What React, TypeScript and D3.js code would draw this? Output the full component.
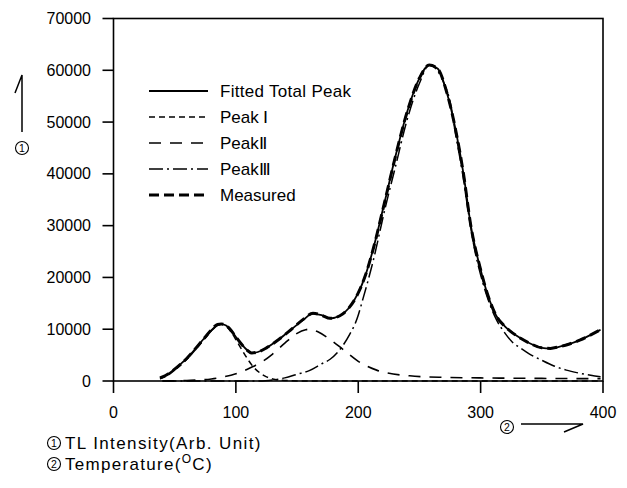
import React from "react";
import * as d3 from "d3";

// ---------- data ----------
const xTicks = [0, 100, 200, 300, 400];
const yTicks = [0, 10000, 20000, 30000, 40000, 50000, 60000, 70000];

const totalT = [38, 45, 50, 55, 60, 65, 70, 75, 80, 85, 88, 92, 96, 100, 105, 110, 113, 118, 125, 135, 145, 155, 163, 170, 177, 185, 192, 200, 206, 212, 222, 230, 240, 250, 258, 265, 272, 280, 286, 292, 300, 306, 313, 320, 326, 333, 340, 350, 357, 364, 372, 381, 390, 398];
const totalV = [500, 1400, 2300, 3300, 4400, 5700, 7100, 8500, 9800, 10800, 11000, 10700, 9800, 8500, 7000, 5800, 5400, 5600, 6400, 8000, 9900, 11800, 13000, 12700, 12100, 12600, 14000, 17000, 20500, 25300, 35000, 43000, 52000, 58500, 61000, 60300, 56000, 48000, 40000, 30000, 21500, 16500, 12500, 10500, 9300, 8200, 7300, 6400, 6300, 6600, 7100, 7900, 8900, 9900];

const measuredT = [38, 45, 50, 55, 60, 65, 70, 75, 80, 85, 88, 92, 96, 100, 105, 110, 113, 118, 125, 135, 145, 155, 163, 170, 177, 185, 192, 200, 206, 212, 222, 230, 240, 250, 258, 265, 272, 280, 286, 292, 300, 306, 313, 320, 326, 333, 340, 350, 357, 364, 372, 381, 390, 398];
const measuredV = [600, 1400, 2300, 3300, 4400, 5700, 7100, 8500, 9900, 10900, 11000, 10700, 9800, 8500, 7000, 5800, 5400, 5600, 6400, 8000, 9900, 11900, 13100, 12700, 12100, 12600, 14000, 17000, 20500, 25300, 35000, 43000, 52000, 58500, 61000, 60300, 56000, 48000, 40000, 30000, 21500, 16500, 12500, 10500, 9300, 8200, 7300, 6400, 6300, 6600, 7100, 7900, 8900, 9900];

const peak1T = [38, 45, 50, 55, 60, 65, 70, 75, 80, 85, 88, 92, 96, 100, 105, 110, 114, 120, 125, 130, 140, 160, 200, 300, 398];
const peak1V = [400, 1200, 2100, 3100, 4200, 5500, 6900, 8300, 9700, 10700, 11000, 10600, 9500, 8000, 6000, 4100, 2800, 1500, 800, 400, 100, 0, 0, 0, 0];

const peak2T = [40, 60, 80, 90, 100, 107, 114, 120, 130, 140, 150, 157, 160, 167, 177, 187, 200, 215, 242, 270, 300, 350, 398];
const peak2V = [0, 100, 400, 800, 1400, 2000, 2800, 3500, 5200, 7300, 9200, 9900, 10000, 9500, 8000, 6200, 3800, 2100, 1000, 700, 600, 500, 450];

const peak3T = [40, 100, 120, 130, 140, 150, 160, 170, 177, 187, 193, 199, 204, 212, 222, 230, 240, 250, 258, 265, 270, 275, 280, 285, 290, 295, 300, 305, 313, 320, 326, 333, 340, 350, 359, 370, 381, 390, 398];
const peak3V = [0, 0, 0, 200, 600, 1300, 2000, 3300, 4200, 6700, 9000, 12000, 16000, 23000, 33400, 41000, 50500, 57500, 61000, 59800, 57500, 54000, 47000, 40500, 32500, 25500, 20500, 16500, 11800, 9200, 7500, 6300, 5200, 4000, 3000, 2100, 1500, 1100, 800];

const legendLabels = ["Fitted  Total  Peak", "Peak \u2160", "Peak\u2161", "Peak\u2162", "Measured"];
const noteLabels = ["TL  Intensity(Arb. Unit)", "Temperature("];

// ---------- layout ----------
const W = 627;
const H = 488;
const x = d3.scaleLinear().domain([0, 400]).range([113.5, 603]);
const y = d3.scaleLinear().domain([0, 70000]).range([381, 18.5]);

const lineGen = d3
  .line<[number, number]>()
  .x((d) => x(d[0]))
  .y((d) => y(d[1]))
  .curve(d3.curveMonotoneX);

const zip = (t: number[], v: number[]) => t.map((tt, i) => [tt, v[i]] as [number, number]);

const styles = [
  { dash: "none", width: 1.8 },
  { dash: "6,4", width: 1.5 },
  { dash: "12,9", width: 1.6 },
  { dash: "14,4,2,4", width: 1.5 },
  { dash: "10,5", width: 3 },
];

const FONT = "'Liberation Sans', Arial, sans-serif";

function Circled({ cx, cy, n }: { cx: number; cy: number; n: string }) {
  return (
    <g>
      <circle cx={cx} cy={cy} r={6.5} fill="none" stroke="#000" strokeWidth={1.1} />
      <text
        x={cx}
        y={cy}
        dy="0.36em"
        textAnchor="middle"
        fontFamily={FONT}
        fontSize={10.5}
        fill="#000"
      >
        {n}
      </text>
    </g>
  );
}

export default function App() {
  const series = [
    zip(totalT, totalV),
    zip(peak1T, peak1V),
    zip(peak2T, peak2V),
    zip(peak3T, peak3V),
    zip(measuredT, measuredV),
  ];
  const drawOrder = [1, 2, 3, 0, 4];
  const legendY0 = 91;
  const legendStep = 26;

  return (
    <svg
      width={W}
      height={H}
      viewBox={`0 0 ${W} ${H}`}
      style={{ position: "absolute", left: 0, top: 0, background: "#fff" }}
    >
      <rect x={0} y={0} width={W} height={H} fill="#fff" />
      {/* frame */}
      <rect
        x={x(0)}
        y={y(70000)}
        width={x(400) - x(0)}
        height={y(0) - y(70000)}
        fill="none"
        stroke="#000"
        strokeWidth={1.6}
      />
      {/* y ticks */}
      {yTicks.map((t) => (
        <g key={"y" + t}>
          <line x1={x(0) - 11} x2={x(0)} y1={y(t)} y2={y(t)} stroke="#000" strokeWidth={1.6} />
          <text
            x={91}
            y={y(t)}
            dy="0.35em"
            textAnchor="end"
            fontFamily={FONT}
            fontSize={16}
            fill="#000"
          >
            {t}
          </text>
        </g>
      ))}
      {/* x ticks */}
      {xTicks.map((t) => (
        <g key={"x" + t}>
          <line x1={x(t)} x2={x(t)} y1={y(0)} y2={y(0) + 12} stroke="#000" strokeWidth={1.6} />
          <text x={x(t)} y={418} textAnchor="middle" fontFamily={FONT} fontSize={16} fill="#000">
            {t}
          </text>
        </g>
      ))}

      {/* curves */}
      {drawOrder.map((i) => (
        <path
          key={"s" + i}
          d={lineGen(series[i]) || ""}
          fill="none"
          stroke="#000"
          strokeWidth={styles[i].width}
          strokeDasharray={styles[i].dash}
          strokeLinejoin="round"
        />
      ))}

      {/* legend */}
      {legendLabels.map((lab, i) => {
        const cy = legendY0 + i * legendStep;
        return (
          <g key={"l" + i}>
            <line
              x1={149}
              x2={208}
              y1={cy}
              y2={cy}
              stroke="#000"
              strokeWidth={styles[i].width}
              strokeDasharray={styles[i].dash}
            />
            <text
              x={220}
              y={cy + 6}
              fontFamily={FONT}
              fontSize={17}
              fill="#000"
              letterSpacing={i === 0 ? 0.3 : 0}
            >
              {lab}
            </text>
          </g>
        );
      })}

      {/* left axis annotation: arrow + circled 1 */}
      <path d="M22,132 L22,75 L15,93" fill="none" stroke="#000" strokeWidth={1.5} />
      <Circled cx={22} cy={148} n="1" />

      {/* bottom-right annotation: circled 2 + arrow */}
      <Circled cx={507} cy={427} n="2" />
      <path d="M521,424 L583,424 L564,432" fill="none" stroke="#000" strokeWidth={1.5} />

      {/* bottom notes */}
      <Circled cx={54} cy={443} n="1" />
      <text x={65} y={449} fontFamily={FONT} fontSize={17} fill="#000" letterSpacing={1.4}>
        {noteLabels[0]}
      </text>
      <Circled cx={54} cy={464} n="2" />
      <text x={65} y={470} fontFamily={FONT} fontSize={17} fill="#000" letterSpacing={1.3}>
        {noteLabels[1]}
        <tspan fontSize={12} dy={-7}>
          O
        </tspan>
        <tspan dy={7}>C)</tspan>
      </text>
    </svg>
  );
}
